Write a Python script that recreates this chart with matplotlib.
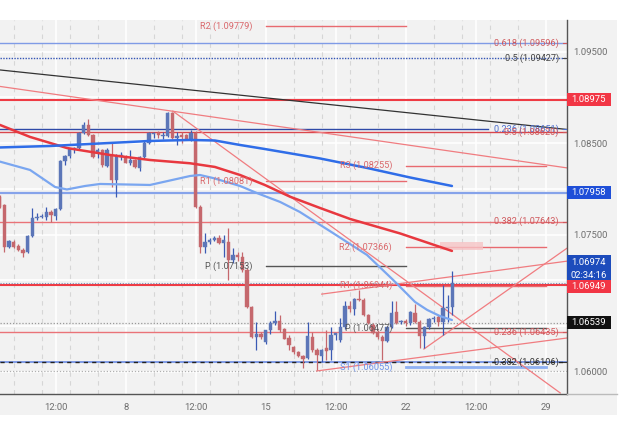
import matplotlib
matplotlib.use('Agg')
import matplotlib.pyplot as plt
import matplotlib.transforms as mtransforms
from matplotlib.patches import Rectangle

plt.rcParams['font.family'] = ['Roboto', 'DejaVu Sans']

# EUR/USD 4H candles, index 0 = first (partly hidden) candle on the left
opens = [1.0791, 1.0782, 1.0737, 1.0742, 1.0738, 1.0733, 1.0731, 1.0749, 1.0768, 1.0769,
         1.0769, 1.0775, 1.0770, 1.0778, 1.0831, 1.0836, 1.0844, 1.0845, 1.0861, 1.0870,
         1.0859, 1.0839, 1.0843, 1.0825, 1.0836, 1.0810, 1.0835, 1.0835, 1.0828, 1.0832,
         1.0823, 1.0835, 1.0850, 1.0860, 1.0861, 1.0858, 1.0858, 1.0883, 1.0856, 1.0859,
         1.0859, 1.0854, 1.0861, 1.0780, 1.0737, 1.0742, 1.0744, 1.0746, 1.0741, 1.0742,
         1.0722, 1.0728, 1.0726, 1.0711, 1.0671, 1.0638, 1.0641, 1.0633, 1.0646, 1.0653,
         1.0656, 1.0647, 1.0637, 1.0627, 1.0622, 1.0617, 1.0615, 1.0638, 1.0624, 1.0617,
         1.0626, 1.0624, 1.0640, 1.0635, 1.0649, 1.0672, 1.0669, 1.0680, 1.0679, 1.0662,
         1.0651, 1.0644, 1.0638, 1.0634, 1.0649, 1.0665, 1.0655, 1.0656, 1.0653, 1.0664,
         1.0655, 1.0639, 1.0649, 1.0658, 1.0660, 1.0654, 1.0670, 1.0671]
highs = [1.0793, 1.0783, 1.0744, 1.0744, 1.0740, 1.0735, 1.0750, 1.0779, 1.0774, 1.0773,
         1.0780, 1.0777, 1.0779, 1.0832, 1.0837, 1.0845, 1.0846, 1.0862, 1.0873, 1.0876,
         1.0860, 1.0845, 1.0844, 1.0845, 1.0850, 1.0838, 1.0840, 1.0837, 1.0843, 1.0833,
         1.0836, 1.0852, 1.0862, 1.0862, 1.0863, 1.0862, 1.0884, 1.0884, 1.0862, 1.0862,
         1.0860, 1.0864, 1.0863, 1.0782, 1.0752, 1.0746, 1.0749, 1.0750, 1.0750, 1.0757,
         1.0735, 1.0731, 1.0731, 1.0713, 1.0672, 1.0654, 1.0644, 1.0646, 1.0656, 1.0667,
         1.0662, 1.0648, 1.0640, 1.0628, 1.0623, 1.0618, 1.0655, 1.0644, 1.0626, 1.0625,
         1.0646, 1.0649, 1.0643, 1.0659, 1.0678, 1.0678, 1.0681, 1.0690, 1.0681, 1.0663,
         1.0653, 1.0646, 1.0640, 1.0650, 1.0677, 1.0677, 1.0657, 1.0658, 1.0667, 1.0674,
         1.0657, 1.0650, 1.0659, 1.0661, 1.0662, 1.0695, 1.0684, 1.0710]
lows = [1.0779, 1.0731, 1.0735, 1.0735, 1.0732, 1.0726, 1.0730, 1.0747, 1.0766, 1.0768,
        1.0766, 1.0764, 1.0766, 1.0777, 1.0826, 1.0834, 1.0839, 1.0844, 1.0860, 1.0858,
        1.0834, 1.0834, 1.0824, 1.0824, 1.0802, 1.0791, 1.0832, 1.0828, 1.0826, 1.0823,
        1.0820, 1.0834, 1.0849, 1.0856, 1.0856, 1.0854, 1.0857, 1.0855, 1.0848, 1.0850,
        1.0853, 1.0852, 1.0779, 1.0730, 1.0730, 1.0740, 1.0743, 1.0740, 1.0726, 1.0700,
        1.0719, 1.0721, 1.0709, 1.0670, 1.0637, 1.0624, 1.0636, 1.0631, 1.0641, 1.0651,
        1.0644, 1.0636, 1.0624, 1.0620, 1.0616, 1.0604, 1.0614, 1.0622, 1.0602, 1.0611,
        1.0613, 1.0613, 1.0635, 1.0633, 1.0647, 1.0665, 1.0662, 1.0678, 1.0661, 1.0652,
        1.0641, 1.0636, 1.0613, 1.0633, 1.0648, 1.0652, 1.0652, 1.0650, 1.0651, 1.0653,
        1.0626, 1.0626, 1.0647, 1.0655, 1.0650, 1.0640, 1.0655, 1.0662]
closes = [1.0780, 1.0737, 1.0743, 1.0737, 1.0733, 1.0730, 1.0749, 1.0768, 1.0769, 1.0770,
          1.0775, 1.0772, 1.0778, 1.0831, 1.0836, 1.0844, 1.0845, 1.0861, 1.0870, 1.0859,
          1.0835, 1.0843, 1.0826, 1.0843, 1.0810, 1.0836, 1.0837, 1.0828, 1.0832, 1.0824,
          1.0835, 1.0850, 1.0861, 1.0861, 1.0859, 1.0859, 1.0883, 1.0856, 1.0858, 1.0857,
          1.0855, 1.0861, 1.0780, 1.0737, 1.0742, 1.0744, 1.0746, 1.0741, 1.0744, 1.0722,
          1.0728, 1.0726, 1.0711, 1.0671, 1.0638, 1.0641, 1.0638, 1.0646, 1.0653, 1.0656,
          1.0646, 1.0636, 1.0629, 1.0622, 1.0617, 1.0614, 1.0639, 1.0624, 1.0618, 1.0624,
          1.0623, 1.0640, 1.0642, 1.0649, 1.0672, 1.0669, 1.0680, 1.0679, 1.0662, 1.0653,
          1.0643, 1.0638, 1.0634, 1.0649, 1.0664, 1.0653, 1.0656, 1.0653, 1.0665, 1.0655,
          1.0639, 1.0649, 1.0658, 1.0659, 1.0655, 1.0670, 1.0671, 1.0697]

# moving averages (sampled points: candle index, price)
ma_slow_x = [0.06, 10.8, 23.6, 32.2, 40.8, 46.1, 51.5, 56.8, 62.2, 68.6, 78.7, 87.9, 96.9]
ma_slow_y = [1.08453, 1.08469, 1.08502, 1.08524, 1.08535, 1.08529, 1.08480, 1.08436,
             1.08389, 1.08333, 1.08229, 1.08125, 1.08032]
ma_red_x = [0.06, 6.5, 14.4, 23.6, 32.2, 40.8, 46.1, 51.5, 56.8, 62.2, 68.6, 75.1, 85.8, 96.9]
ma_red_y = [1.08699, 1.08568, 1.08447, 1.08371, 1.08316, 1.08280, 1.08240, 1.08152,
            1.08043, 1.07915, 1.07792, 1.07671, 1.07513, 1.07322]
ma_fast_x = [0.06, 6.5, 11.85, 14.4, 18.3, 21.5, 32.2, 40.8, 42.9, 45.7, 51.5, 55.1, 60.1,
             64.3, 71.4, 78.7, 84.3, 89.0, 91.6, 94.3, 96.9]
ma_fast_y = [1.08298, 1.08207, 1.08021, 1.07994, 1.08032, 1.08054, 1.08043, 1.08141,
             1.08152, 1.08119, 1.08032, 1.07955, 1.07857, 1.07748, 1.07518, 1.07278,
             1.07005, 1.06764, 1.06677, 1.06611, 1.06567]

# trend lines: (x0, y0, x1, y1, colour)
trend_lines = [
    (0.06, 1.0930, 121.5, 1.0865, '#333333'),
    (0.06, 1.0912, 121.5, 1.0823, '#f07c80'),
    (37.1, 1.0885, 120.1, 1.0577, '#f07c80'),
    (69.0, 1.0685, 121.5, 1.0721, '#f07c80'),
    (67.9, 1.0601, 121.5, 1.0637, '#f07c80'),
    (90.9, 1.0625, 121.5, 1.0735, '#f07c80'),
]

# fibonacci levels (full width): price, line colour, style, label, label colour
fib_prices = [1.09596, 1.09427, 1.08651, 1.08620, 1.07643, 1.06435, 1.06106]
fib_labels = ['0.618 (1.09596)', '0.5 (1.09427)', '0.236 (1.08651)', '0.5 (1.08620)',
              '0.382 (1.07643)', '0.236 (1.06435)', '0.382 (1.06106)']
fib_line_colors = ['#7f9be6', '#3555b5', '#2f4aa8', '#d9464c', '#ea7378', '#ea7378', '#7f9be6']
fib_text_colors = ['#cf5a5e', '#444444', '#4d6fd0', '#cf5a5e', '#cf5a5e', '#cf5a5e', '#333333']

# weekly pivots: (start, end) candle index, names, prices
week1_span = (57, 87)
week1_names = ['R2', 'R1', 'P']
week1_prices = [1.09779, 1.08081, 1.07153]
week2_span = (87, 117)
week2_names = ['R3', 'R2', 'R1', 'P', 'S1']
week2_prices = [1.08255, 1.07366, 1.06944, 1.06477, 1.06055]

tick_pos = [12, 27, 42, 57, 72, 87, 102, 117]
tick_labels = ['12:00', '8', '12:00', '15', '12:00', '22', '12:00', '29']
day_starts = [3, 9, 15, 21, 33, 39, 45, 51, 63, 69, 75, 81, 93, 99, 105, 111]
grid_prices = [1.060, 1.065, 1.070, 1.075, 1.080, 1.085, 1.090, 1.095]
axis_prices = [1.095, 1.085, 1.075, 1.060]

last_price = 1.06974
countdown = '02:34:16'
red_level = 1.08975
blue_level = 1.07958
red_level2 = 1.06949
black_level = 1.06539
dotted_level = 1.06010
alert_zone = (94.3, 103.5, 1.07332, 1.07423)

W, H = 625, 443
fig = plt.figure(figsize=(W / 100, H / 100), dpi=100)
fig.patch.set_facecolor('white')
# grey chart panel
fig.patches.append(Rectangle((0, 28 / H), 617 / W, (415 - 20) / H, transform=fig.transFigure,
                             facecolor='#f2f2f2', edgecolor='none', zorder=-10))
ax = fig.add_axes([0, 1 - 394.3 / H, 566.7 / W, (394.3 - 20) / H])
ax.set_facecolor('#f2f2f2')
ax.set_xlim(0.064, 121.49)
ax.set_ylim(1.05755, 1.09846)

for p in grid_prices:
    ax.axhline(p, color='white', lw=1.2, zorder=0)
for t in tick_pos:
    ax.axvline(t, color='white', lw=1.2, zorder=0)
for d in day_starts:
    ax.axvline(d, color='#d6d6d6', lw=0.8, ls=(0, (4, 4)), zorder=0)

# horizontal price lines
ax.axhline(red_level, color='#ef3b44', lw=1.5, zorder=2)
ax.axhline(blue_level, color='#86a3ea', lw=1.6, zorder=2)
ax.axhline(red_level2, color='#ef3b44', lw=1.5, zorder=2)
ax.axhline(last_price, color='#7d8fb8', lw=0.8, ls=(0, (1, 1.5)), zorder=2)
ax.axhline(black_level, color='#9a9a9a', lw=0.9, ls=(0, (1, 1.5)), zorder=2)
ax.axhline(dotted_level, color='#b0b0b0', lw=0.9, ls=(0, (1, 1.5)), zorder=2)

# fibonacci levels
tr = mtransforms.blended_transform_factory(ax.transAxes, ax.transData)
for p, lab, lc, tc in zip(fib_prices, fib_labels, fib_line_colors, fib_text_colors):
    if lab.startswith('0.236 (1.08'):
        ax.plot([0, 104.6], [p, p], color=lc, lw=1, zorder=2)
    elif lab.startswith('0.5 (1.09'):
        ax.axhline(p, color=lc, lw=1, ls=(0, (1, 1)), zorder=2)
    elif lab.startswith('0.382 (1.06'):
        ax.axhline(p, color=lc, lw=1.4, zorder=2)
        ax.axhline(p, color='#222222', lw=1, ls=(0, (3, 3)), zorder=2)
    else:
        ax.axhline(p, color=lc, lw=1, zorder=2)
    ax.text(0.9864, p, lab, transform=tr, ha='right', va='center', fontsize=6.6,
            color=tc, zorder=6)
    ax.plot([0.994, 1.0], [p, p], transform=tr, color=tc, lw=0.8, zorder=6)

# pivots
def pivot_color(name):
    if name.startswith('R'):
        return '#e86a70', '#d9686c', 1.0
    if name.startswith('S'):
        return '#8fb0f2', '#6e92ea', 2.0
    return '#555555', '#555555', 1.0

for span, names, prices in [(week1_span, week1_names, week1_prices),
                            (week2_span, week2_names, week2_prices)]:
    for n, p in zip(names, prices):
        lc, tc, lw = pivot_color(n)
        ax.plot([span[0], span[1]], [p, p], color=lc, lw=lw, zorder=2)
        ax.text(span[0] - 2.9, p, f'{n} ({p:.5f})', ha='right', va='center',
                fontsize=6.6, color=tc, zorder=6)

# trend lines
for x0, y0, x1, y1, c in trend_lines:
    ax.plot([x0, x1], [y0, y1], color=c, lw=0.9, zorder=2)

# alert zone
ax.add_patch(Rectangle((alert_zone[0], alert_zone[2]), alert_zone[1] - alert_zone[0],
                       alert_zone[3] - alert_zone[2], facecolor='#f6c4c6', alpha=0.8,
                       edgecolor='none', zorder=2))

# candles
for i, (o, h, l, c) in enumerate(zip(opens, highs, lows, closes)):
    up = c >= o
    body = '#5c76b8' if up else '#c5686d'
    wick = '#3a5ab4' if up else '#c5686d'
    ax.vlines(i, l, h, color=wick, lw=0.9, zorder=3)
    ax.bar(i, max(abs(c - o), 0.00008), bottom=min(o, c), width=0.68, color=body,
           edgecolor=body, lw=0.3, zorder=3)

# moving averages
ax.plot(ma_fast_x, ma_fast_y, color='#7aa6f0', lw=1.6, zorder=4, solid_capstyle='round')
ax.plot(ma_red_x, ma_red_y, color='#e8383f', lw=1.8, zorder=4, solid_capstyle='round')
ax.plot(ma_slow_x, ma_slow_y, color='#2f6de8', lw=1.8, zorder=4, solid_capstyle='round')

# axes styling
for s in ['left', 'top']:
    ax.spines[s].set_visible(False)
ax.spines['right'].set_color('#555555')
ax.spines['bottom'].set_color('#555555')
ax.spines['right'].set_linewidth(1)
ax.spines['bottom'].set_linewidth(1)
ax.set_xticks(tick_pos)
ax.set_xticklabels(tick_labels)
ax.yaxis.tick_right()
ax.set_yticks(grid_prices)
ax.set_yticklabels([f'{p:.5f}' if p in axis_prices else '' for p in grid_prices])
ax.tick_params(axis='x', length=0, pad=6, labelsize=6.8, labelcolor='#6e6e6e')
ax.tick_params(axis='y', length=0, pad=5, labelsize=6.8, labelcolor='#6e6e6e')
fig.add_artist(plt.Line2D([566.7 / W, 617 / W], [1 - 394.3 / H, 1 - 394.3 / H],
                          color='#bbbbbb', lw=1))

# price boxes on the axis
def price_box(y_top, y_bot, color, lines):
    ax.add_patch(Rectangle((1.0, y_bot), 0.0776, y_top - y_bot, transform=tr,
                           facecolor=color, edgecolor='none', clip_on=False, zorder=10))
    n = len(lines)
    for k, txt in enumerate(lines):
        yy = y_top - (y_top - y_bot) * (k + 0.5) / n
        ax.text(1.0388, yy, txt, transform=tr, ha='center', va='center', fontsize=6.8,
                color='white', zorder=11, clip_on=False)

hb = 0.00070
price_box(red_level + hb, red_level - hb, '#f23645', [f'{red_level:.5f}'])
price_box(blue_level + hb, blue_level - hb, '#1f4fd8', [f'{blue_level:.5f}'])
price_box(last_price + 0.00300, last_price + 0.00004, '#1d4cbc',
          [f'{last_price:.5f}', countdown])
price_box(red_level2 + 0.00056, red_level2 - 0.00083, '#f23645', [f'{red_level2:.5f}'])
price_box(black_level + hb, black_level - hb, '#111111', [f'{black_level:.5f}'])

fig.savefig('out.png', dpi=100)
